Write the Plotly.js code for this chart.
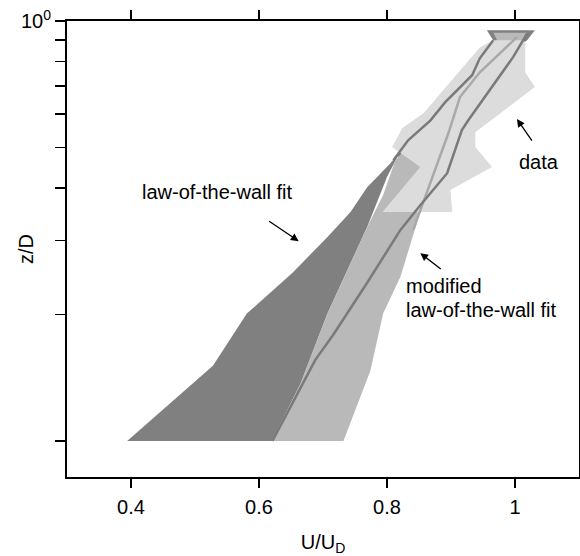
<!DOCTYPE html>
<html>
<head>
<meta charset="utf-8">
<script src="https://cdn.plot.ly/plotly-3.0.1.min.js"></script>
<style>html,body{margin:0;padding:0;background:#fff;}#chart{width:580px;height:556px;}</style>
</head>
<body>
<div id="chart"></div>
<script>
// ---- data (x = U/U_D, z = z/D) ----
// law-of-the-wall fit band
const lawX = [0.394,0.528,0.581,0.652,0.707,0.743,0.769,0.805,0.818,0.841,0.868,0.891,0.933,0.945,0.966,0.956,1.031,1.019,0.977,0.899,0.816,0.800,0.769,0.738,0.707,0.665,0.620];
const lawZ = [0.100,0.151,0.201,0.251,0.306,0.351,0.402,0.458,0.484,0.529,0.580,0.641,0.743,0.815,0.900,0.951,0.951,0.900,0.807,0.550,0.474,0.425,0.323,0.255,0.201,0.137,0.100];
// modified law-of-the-wall fit band
const modX = [0.620,0.665,0.707,0.738,0.769,0.794,0.813,0.846,0.872,0.896,0.936,0.952,0.972,0.966,1.019,1.010,0.984,0.945,0.899,0.852,0.821,0.794,0.785,0.774,0.732];
const modZ = [0.100,0.137,0.201,0.255,0.323,0.385,0.466,0.529,0.580,0.641,0.739,0.824,0.900,0.937,0.937,0.876,0.764,0.613,0.441,0.351,0.246,0.201,0.174,0.147,0.100];
// data band
const dataX = [0.793,0.852,0.808,0.824,0.857,0.914,0.945,0.966,1.014,1.016,1.016,1.031,0.977,0.938,0.938,0.964,0.899,0.902];
const dataZ = [0.351,0.449,0.501,0.556,0.603,0.764,0.865,0.900,0.900,0.885,0.755,0.696,0.603,0.543,0.501,0.449,0.396,0.351];
// mean curves
const lineAX = [0.621,0.652,0.688,0.716,0.769,0.821,0.852,0.894,0.917,0.927,0.961,0.997,1.019];
const lineAZ = [0.100,0.123,0.156,0.179,0.238,0.318,0.364,0.434,0.550,0.580,0.684,0.820,0.935];
const lineBX = [0.810,0.833,0.868,0.891,0.933,0.945,0.966];
const lineBZ = [0.466,0.520,0.580,0.641,0.743,0.815,0.900];
const lineCX = [0.841,0.878,0.896,0.914,0.945,1.003];
const lineCZ = [0.318,0.453,0.541,0.659,0.755,0.915];
// ticks
const xTickVals = [0.4,0.6,0.8,1];
const xTickText = ['0.4','0.6','0.8','1'];
const yTickVals = [0.1,0.2,0.3,0.4,0.5,0.6,0.7,0.8,0.9,1];
const yTickText = ['','','','','','','','','','10<sup>0</sup>'];

const FONT = 'Liberation Sans, Arial, Helvetica, sans-serif';

function band(x, z, color) {
  return {x: x, y: z, type: 'scatter', mode: 'lines', fill: 'toself',
          fillcolor: color, line: {width: 0, color: color}, hoverinfo: 'skip', showlegend: false};
}
function curve(x, z, color, w) {
  return {x: x, y: z, type: 'scatter', mode: 'lines',
          line: {color: color, width: w}, hoverinfo: 'skip', showlegend: false};
}

const traces = [
  band(lawX, lawZ, '#808080'),
  band(modX, modZ, '#b9b9b9'),
  band(dataX, dataZ, '#dcdcdc'),
  curve(lineCX, lineCZ, '#a9a9a9', 2.5),
  curve(lineBX, lineBZ, '#7a7a7a', 2.5),
  curve(lineAX, lineAZ, '#7a7a7a', 2.5)
];

const layout = {
  width: 580, height: 556,
  margin: {l: 67, r: 1, t: 21, b: 79},
  paper_bgcolor: '#fff', plot_bgcolor: '#fff',
  font: {family: FONT, color: '#000', size: 20},
  showlegend: false,
  xaxis: {
    range: [0.3, 1.1], tickvals: xTickVals, ticktext: xTickText,
    ticks: 'outside', ticklen: 9, tickwidth: 1.5, tickcolor: '#000',
    showline: true, linewidth: 2, linecolor: '#000', mirror: 'ticks',
    showgrid: false, zeroline: false, ticklabelstandoff: 2,
    tickfont: {family: FONT, size: 20, color: '#000'},
    title: {text: 'U/U<sub>D</sub>', font: {family: FONT, size: 20, color: '#000'}, standoff: 22}
  },
  yaxis: {
    type: 'log', range: [-1.086, 0], tickvals: yTickVals, ticktext: yTickText,
    ticks: 'outside', ticklen: 10, tickwidth: 1.5, tickcolor: '#000',
    showline: true, linewidth: 2, linecolor: '#000', mirror: true,
    showgrid: false, zeroline: false,
    tickfont: {family: FONT, size: 20, color: '#000'}
  },
  annotations: [
    {xref: 'paper', yref: 'paper', x: -0.08, y: 0.5, xanchor: 'center', yanchor: 'middle',
     text: 'z/D', textangle: -90,
     showarrow: false, font: {family: FONT, size: 20, color: '#000'}},
    {x: 0.534, y: Math.log10(0.391), xref: 'x', yref: 'y', text: 'law-of-the-wall fit',
     showarrow: false, font: {family: FONT, size: 20, color: '#000'}},
    {x: 1.037, y: Math.log10(0.461), xref: 'x', yref: 'y', text: 'data',
     showarrow: false, font: {family: FONT, size: 20, color: '#000'}},
    {x: 0.826, y: Math.log10(0.2336), xref: 'x', yref: 'y', text: 'modified', xanchor: 'left',
     showarrow: false, font: {family: FONT, size: 20, color: '#000'}},
    {x: 0.826, y: Math.log10(0.2049), xref: 'x', yref: 'y', text: 'law-of-the-wall fit', xanchor: 'left',
     showarrow: false, font: {family: FONT, size: 20, color: '#000'}},
    {x: 0.662, y: Math.log10(0.299), xref: 'x', yref: 'y', ax: -31, ay: -21, text: '',
     showarrow: true, arrowhead: 2, arrowsize: 1.2, arrowwidth: 1.3, arrowcolor: '#000'},
    {x: 1.003, y: Math.log10(0.584), xref: 'x', yref: 'y', ax: 16, ay: 23, text: '',
     showarrow: true, arrowhead: 2, arrowsize: 1.2, arrowwidth: 1.3, arrowcolor: '#000'},
    {x: 0.852, y: Math.log10(0.280), xref: 'x', yref: 'y', ax: 22, ay: 17, text: '',
     showarrow: true, arrowhead: 2, arrowsize: 1.2, arrowwidth: 1.3, arrowcolor: '#000'}
  ]
};

Plotly.newPlot('chart', traces, layout, {displayModeBar: false, staticPlot: true});
</script>
</body>
</html>
